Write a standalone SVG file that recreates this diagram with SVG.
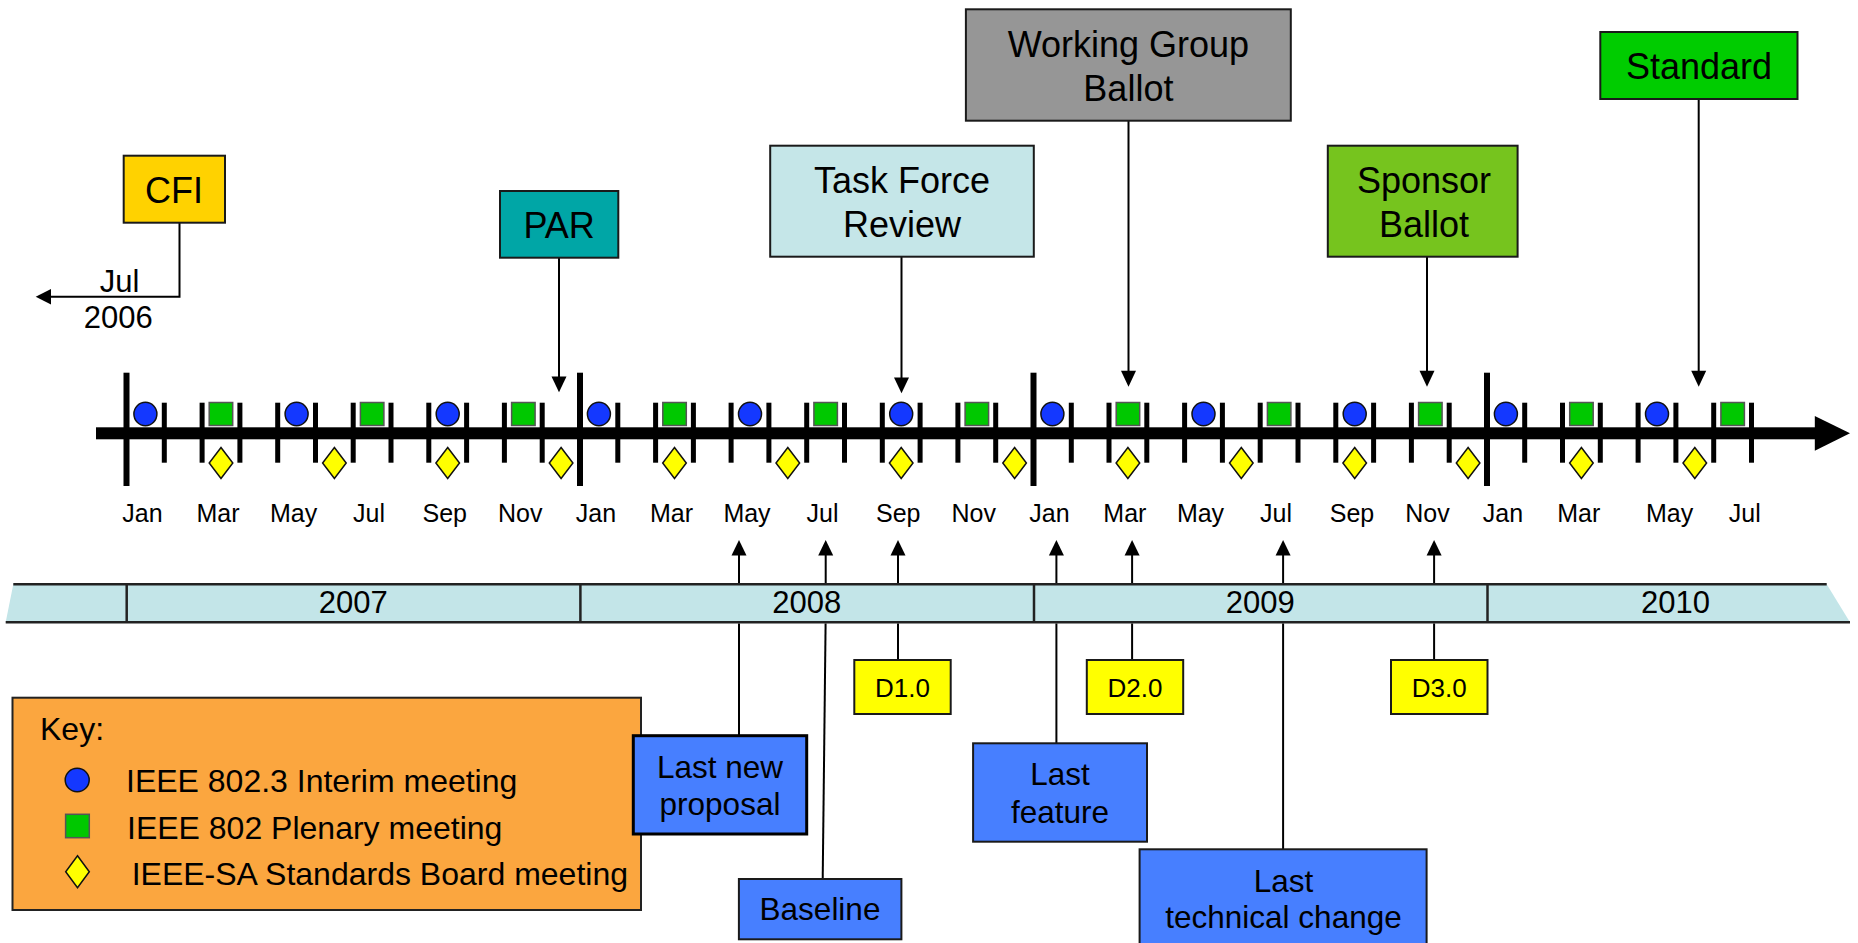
<svg xmlns="http://www.w3.org/2000/svg" width="1858" height="943" viewBox="0 0 1858 943">
<defs>
<style>
text{font-family:"Liberation Sans",Arial,sans-serif;fill:#000}
.box{stroke:#1a1a1a;stroke-width:2}
.c{text-anchor:middle}
.big{font-size:36px}
.mid{font-size:31.5px}
.key{font-size:32px}
.mon{font-size:25px;text-anchor:middle}
.yr{font-size:31px;text-anchor:middle}
.tk{fill:#000}
.ci{fill:#1438FF;stroke:#111;stroke-width:1.5}
.sq{fill:#00C800;stroke:#555;stroke-width:1.5}
.di{fill:#FFFF00;stroke:#111;stroke-width:1.5}
.ln{stroke:#000;stroke-width:2;fill:none}
.ah{fill:#000}
</style>
</defs>
<rect width="1858" height="943" fill="#fff"/>

<!-- year band -->
<g id="yearband">
<polygon points="13.3,584.3 1826.7,584.3 1850,622.3 5.7,622.3" fill="#C3E5E8"/>
<line x1="13.3" y1="584.3" x2="1826.7" y2="584.3" stroke="#222" stroke-width="2.5"/>
<line x1="5.7" y1="622.3" x2="1850" y2="622.3" stroke="#222" stroke-width="2.5"/>
<g stroke="#222" stroke-width="2.5">
<line x1="126.7" y1="584.3" x2="126.7" y2="622.3"/>
<line x1="580.4" y1="584.3" x2="580.4" y2="622.3"/>
<line x1="1034" y1="584.3" x2="1034" y2="622.3"/>
<line x1="1487.5" y1="584.3" x2="1487.5" y2="622.3"/>
</g>
<text class="yr" x="353.2" y="613">2007</text>
<text class="yr" x="806.7" y="613">2008</text>
<text class="yr" x="1260.2" y="613">2009</text>
<text class="yr" x="1675.5" y="613">2010</text>
</g>

<!-- timeline axis -->
<g id="axis">
<rect x="96" y="427.3" width="1720" height="12" class="tk"/>
<polygon points="1814.8,416 1850,433.3 1814.8,450.7" class="tk"/>
<g class="tk">
<rect x="123.5" y="372.7" width="6" height="113.3"/>
<rect x="577" y="372.7" width="6" height="113.3"/>
<rect x="1030.5" y="372.7" width="6" height="113.3"/>
<rect x="1484" y="372.7" width="6" height="113.3"/>
<rect x="161.8" y="402.7" width="5" height="60"/>
<rect x="199.6" y="402.7" width="5" height="60"/>
<rect x="237.4" y="402.7" width="5" height="60"/>
<rect x="275.2" y="402.7" width="5" height="60"/>
<rect x="313" y="402.7" width="5" height="60"/>
<rect x="350.7" y="402.7" width="5" height="60"/>
<rect x="388.5" y="402.7" width="5" height="60"/>
<rect x="426.3" y="402.7" width="5" height="60"/>
<rect x="464.1" y="402.7" width="5" height="60"/>
<rect x="501.9" y="402.7" width="5" height="60"/>
<rect x="539.7" y="402.7" width="5" height="60"/>
<rect x="615.3" y="402.7" width="5" height="60"/>
<rect x="653.1" y="402.7" width="5" height="60"/>
<rect x="690.9" y="402.7" width="5" height="60"/>
<rect x="728.6" y="402.7" width="5" height="60"/>
<rect x="766.4" y="402.7" width="5" height="60"/>
<rect x="804.2" y="402.7" width="5" height="60"/>
<rect x="842" y="402.7" width="5" height="60"/>
<rect x="879.8" y="402.7" width="5" height="60"/>
<rect x="917.6" y="402.7" width="5" height="60"/>
<rect x="955.4" y="402.7" width="5" height="60"/>
<rect x="993.2" y="402.7" width="5" height="60"/>
<rect x="1068.8" y="402.7" width="5" height="60"/>
<rect x="1106.5" y="402.7" width="5" height="60"/>
<rect x="1144.3" y="402.7" width="5" height="60"/>
<rect x="1182.1" y="402.7" width="5" height="60"/>
<rect x="1219.9" y="402.7" width="5" height="60"/>
<rect x="1257.7" y="402.7" width="5" height="60"/>
<rect x="1295.5" y="402.7" width="5" height="60"/>
<rect x="1333.3" y="402.7" width="5" height="60"/>
<rect x="1371.1" y="402.7" width="5" height="60"/>
<rect x="1408.9" y="402.7" width="5" height="60"/>
<rect x="1446.7" y="402.7" width="5" height="60"/>
<rect x="1522.2" y="402.7" width="5" height="60"/>
<rect x="1560" y="402.7" width="5" height="60"/>
<rect x="1597.8" y="402.7" width="5" height="60"/>
<rect x="1635.6" y="402.7" width="5" height="60"/>
<rect x="1673.4" y="402.7" width="5" height="60"/>
<rect x="1711.2" y="402.7" width="5" height="60"/>
<rect x="1749" y="402.7" width="5" height="60"/>
</g>
</g>

<!-- interim meetings -->
<g id="interim">
<ellipse class="ci" cx="145.4" cy="414" rx="11.5" ry="11.7"/>
<ellipse class="ci" cx="296.6" cy="414" rx="11.5" ry="11.7"/>
<ellipse class="ci" cx="447.7" cy="414" rx="11.5" ry="11.7"/>
<ellipse class="ci" cx="598.9" cy="414" rx="11.5" ry="11.7"/>
<ellipse class="ci" cx="750" cy="414" rx="11.5" ry="11.7"/>
<ellipse class="ci" cx="901.2" cy="414" rx="11.5" ry="11.7"/>
<ellipse class="ci" cx="1052.4" cy="414" rx="11.5" ry="11.7"/>
<ellipse class="ci" cx="1203.5" cy="414" rx="11.5" ry="11.7"/>
<ellipse class="ci" cx="1354.7" cy="414" rx="11.5" ry="11.7"/>
<ellipse class="ci" cx="1505.9" cy="414" rx="11.5" ry="11.7"/>
<ellipse class="ci" cx="1657" cy="414" rx="11.5" ry="11.7"/>
</g>

<!-- plenary meetings -->
<g id="plenary">
<rect class="sq" x="209.2" y="402.5" width="23.5" height="23"/>
<rect class="sq" x="360.4" y="402.5" width="23.5" height="23"/>
<rect class="sq" x="511.6" y="402.5" width="23.5" height="23"/>
<rect class="sq" x="662.8" y="402.5" width="23.5" height="23"/>
<rect class="sq" x="813.9" y="402.5" width="23.5" height="23"/>
<rect class="sq" x="965.1" y="402.5" width="23.5" height="23"/>
<rect class="sq" x="1116.2" y="402.5" width="23.5" height="23"/>
<rect class="sq" x="1267.4" y="402.5" width="23.5" height="23"/>
<rect class="sq" x="1418.6" y="402.5" width="23.5" height="23"/>
<rect class="sq" x="1569.7" y="402.5" width="23.5" height="23"/>
<rect class="sq" x="1720.9" y="402.5" width="23.5" height="23"/>
</g>

<!-- SA board meetings -->
<g id="saboard">
<polygon class="di" points="221,447.5 232.8,463 221,478.5 209.2,463"/>
<polygon class="di" points="334.4,447.5 346.2,463 334.4,478.5 322.6,463"/>
<polygon class="di" points="447.7,447.5 459.5,463 447.7,478.5 435.9,463"/>
<polygon class="di" points="561.1,447.5 572.9,463 561.1,478.5 549.3,463"/>
<polygon class="di" points="674.5,447.5 686.3,463 674.5,478.5 662.7,463"/>
<polygon class="di" points="787.8,447.5 799.6,463 787.8,478.5 776,463"/>
<polygon class="di" points="901.2,447.5 913,463 901.2,478.5 889.4,463"/>
<polygon class="di" points="1014.6,447.5 1026.4,463 1014.6,478.5 1002.8,463"/>
<polygon class="di" points="1127.9,447.5 1139.7,463 1127.9,478.5 1116.1,463"/>
<polygon class="di" points="1241.3,447.5 1253.1,463 1241.3,478.5 1229.5,463"/>
<polygon class="di" points="1354.7,447.5 1366.5,463 1354.7,478.5 1342.9,463"/>
<polygon class="di" points="1468.1,447.5 1479.9,463 1468.1,478.5 1456.3,463"/>
<polygon class="di" points="1581.4,447.5 1593.2,463 1581.4,478.5 1569.6,463"/>
<polygon class="di" points="1694.8,447.5 1706.6,463 1694.8,478.5 1683,463"/>
</g>

<!-- month labels -->
<g id="months">
<text class="mon" x="142.4" y="521.7">Jan</text>
<text class="mon" x="218" y="521.7">Mar</text>
<text class="mon" x="293.6" y="521.7">May</text>
<text class="mon" x="369.1" y="521.7">Jul</text>
<text class="mon" x="444.7" y="521.7">Sep</text>
<text class="mon" x="520.3" y="521.7">Nov</text>
<text class="mon" x="595.9" y="521.7">Jan</text>
<text class="mon" x="671.5" y="521.7">Mar</text>
<text class="mon" x="747" y="521.7">May</text>
<text class="mon" x="822.6" y="521.7">Jul</text>
<text class="mon" x="898.2" y="521.7">Sep</text>
<text class="mon" x="973.8" y="521.7">Nov</text>
<text class="mon" x="1049.4" y="521.7">Jan</text>
<text class="mon" x="1124.9" y="521.7">Mar</text>
<text class="mon" x="1200.5" y="521.7">May</text>
<text class="mon" x="1276.1" y="521.7">Jul</text>
<text class="mon" x="1352" y="521.7">Sep</text>
<text class="mon" x="1427.5" y="521.7">Nov</text>
<text class="mon" x="1502.9" y="521.7">Jan</text>
<text class="mon" x="1578.8" y="521.7">Mar</text>
<text class="mon" x="1669.6" y="521.7">May</text>
<text class="mon" x="1744.8" y="521.7">Jul</text>
</g>

<!-- key -->
<g id="key">
<rect x="12.5" y="697.7" width="628.5" height="212.3" fill="#FBA63F" stroke="#222" stroke-width="2"/>
<text class="key" x="40" y="740">Key:</text>
<ellipse class="ci" cx="77.2" cy="780" rx="12" ry="11.7"/>
<text class="key" x="126" y="791.7">IEEE 802.3 Interim meeting</text>
<rect class="sq" x="65.6" y="814.3" width="23.7" height="23.4"/>
<text class="key" x="127" y="839.3">IEEE 802 Plenary meeting</text>
<polygon class="di" points="77.5,855.7 89.3,871.7 77.5,887.7 65.7,871.7"/>
<text class="key" x="131.7" y="885">IEEE-SA Standards Board meeting</text>
</g>

<!-- connectors -->
<g id="connectors">
<polyline class="ln" points="179.5,222.7 179.5,296.7 50,296.7"/>
<polygon class="ah" points="35.7,296.7 51,289 51,304.4"/>
<line class="ln" x1="559" y1="257.7" x2="559" y2="377"/>
<polygon class="ah" points="559,392.3 551.5,376.5 566.5,376.5"/>
<line class="ln" x1="901.5" y1="257" x2="901.5" y2="378"/>
<polygon class="ah" points="901.5,393.3 894,377.5 909,377.5"/>
<line class="ln" x1="1128.5" y1="121" x2="1128.5" y2="372"/>
<polygon class="ah" points="1128.5,386.7 1121,370.7 1136,370.7"/>
<line class="ln" x1="1427" y1="257" x2="1427" y2="372"/>
<polygon class="ah" points="1427,386.7 1419.5,370.7 1434.5,370.7"/>
<line class="ln" x1="1698.7" y1="99.5" x2="1698.7" y2="372"/>
<polygon class="ah" points="1698.7,386.7 1691.2,370.7 1706.2,370.7"/>

<line class="ln" x1="739" y1="583" x2="739" y2="554"/>
<polygon class="ah" points="739,540 731.5,555.5 746.5,555.5"/>
<line class="ln" x1="825.7" y1="583" x2="825.7" y2="554"/>
<polygon class="ah" points="825.7,540 818.2,555.5 833.2,555.5"/>
<line class="ln" x1="898" y1="583" x2="898" y2="554"/>
<polygon class="ah" points="898,540 890.5,555.5 905.5,555.5"/>
<line class="ln" x1="1056.4" y1="583" x2="1056.4" y2="554"/>
<polygon class="ah" points="1056.4,540 1048.9,555.5 1063.9,555.5"/>
<line class="ln" x1="1132.1" y1="583" x2="1132.1" y2="554"/>
<polygon class="ah" points="1132.1,540 1124.6,555.5 1139.6,555.5"/>
<line class="ln" x1="1283.1" y1="583" x2="1283.1" y2="554"/>
<polygon class="ah" points="1283.1,540 1275.6,555.5 1290.6,555.5"/>
<line class="ln" x1="1434.1" y1="583" x2="1434.1" y2="554"/>
<polygon class="ah" points="1434.1,540 1426.6,555.5 1441.6,555.5"/>

<line class="ln" x1="739" y1="623.5" x2="739" y2="735.7"/>
<line class="ln" x1="825.6" y1="623.5" x2="822.7" y2="879"/>
<line class="ln" x1="898" y1="623.5" x2="898" y2="660"/>
<line class="ln" x1="1056.4" y1="623.5" x2="1056.4" y2="743.3"/>
<line class="ln" x1="1132.1" y1="623.5" x2="1132.1" y2="660"/>
<line class="ln" x1="1283.1" y1="623.5" x2="1283.1" y2="849.3"/>
<line class="ln" x1="1434.1" y1="623.5" x2="1434.1" y2="660"/>
</g>

<!-- top nodes -->
<g id="cfi">
<rect class="box" x="123.7" y="155.7" width="101.3" height="67" fill="#FFD200"/>
<text class="big c" x="174" y="202.7">CFI</text>
</g>
<g id="jul2006">
<text class="yr" x="119.6" y="291.7">Jul</text>
<text class="yr" x="118.3" y="328.3">2006</text>
</g>
<g id="par">
<rect class="box" x="500" y="191" width="118.3" height="66.7" fill="#00A6A6"/>
<text class="big c" x="559.2" y="237.7">PAR</text>
</g>
<g id="taskforce">
<rect class="box" x="770.2" y="145.7" width="263.6" height="111" fill="#C5E6E8"/>
<text class="big c" x="902" y="192.7">Task Force</text>
<text class="big c" x="902" y="237.3">Review</text>
</g>
<g id="wgballot">
<rect class="box" x="965.9" y="9.3" width="324.9" height="111.4" fill="#969696"/>
<text class="big c" x="1128.4" y="56.7">Working Group</text>
<text class="big c" x="1128.4" y="100.7">Ballot</text>
</g>
<g id="sponsor">
<rect class="box" x="1327.8" y="145.7" width="189.8" height="111" fill="#76C41E"/>
<text class="big c" x="1424" y="192.7">Sponsor</text>
<text class="big c" x="1424" y="237.3">Ballot</text>
</g>
<g id="standard">
<rect class="box" x="1600.3" y="32" width="197.2" height="67" fill="#00CC00"/>
<text class="big c" x="1699" y="79.3">Standard</text>
</g>

<!-- bottom nodes -->
<g id="d10">
<rect class="box" x="854.3" y="660" width="96.4" height="54" fill="#FFFF00"/>
<text class="c" style="font-size:26px" x="902.5" y="696.7">D1.0</text>
</g>
<g id="d20">
<rect class="box" x="1086.8" y="660" width="96.4" height="54" fill="#FFFF00"/>
<text class="c" style="font-size:26px" x="1135" y="696.7">D2.0</text>
</g>
<g id="d30">
<rect class="box" x="1391" y="660" width="96.5" height="54" fill="#FFFF00"/>
<text class="c" style="font-size:26px" x="1439.2" y="696.7">D3.0</text>
</g>
<g id="lastnew">
<rect x="633.3" y="735.7" width="173.4" height="98.3" fill="#477FFF" stroke="#000" stroke-width="3"/>
<text class="mid c" x="720" y="778.3">Last new</text>
<text class="mid c" x="720" y="815">proposal</text>
</g>
<g id="baseline">
<rect class="box" x="738.9" y="879" width="162.5" height="60.3" fill="#477FFF"/>
<text class="mid c" x="820" y="920">Baseline</text>
</g>
<g id="lastfeature">
<rect class="box" x="973.1" y="743.3" width="173.9" height="98.4" fill="#477FFF"/>
<text class="mid c" x="1060" y="785">Last</text>
<text class="mid c" x="1060" y="823.3">feature</text>
</g>
<g id="lasttech">
<rect class="box" x="1139.6" y="849.3" width="287" height="110" fill="#477FFF"/>
<text class="mid c" x="1283.5" y="891.7">Last</text>
<text class="mid c" x="1283.5" y="928.3">technical change</text>
</g>
</svg>
